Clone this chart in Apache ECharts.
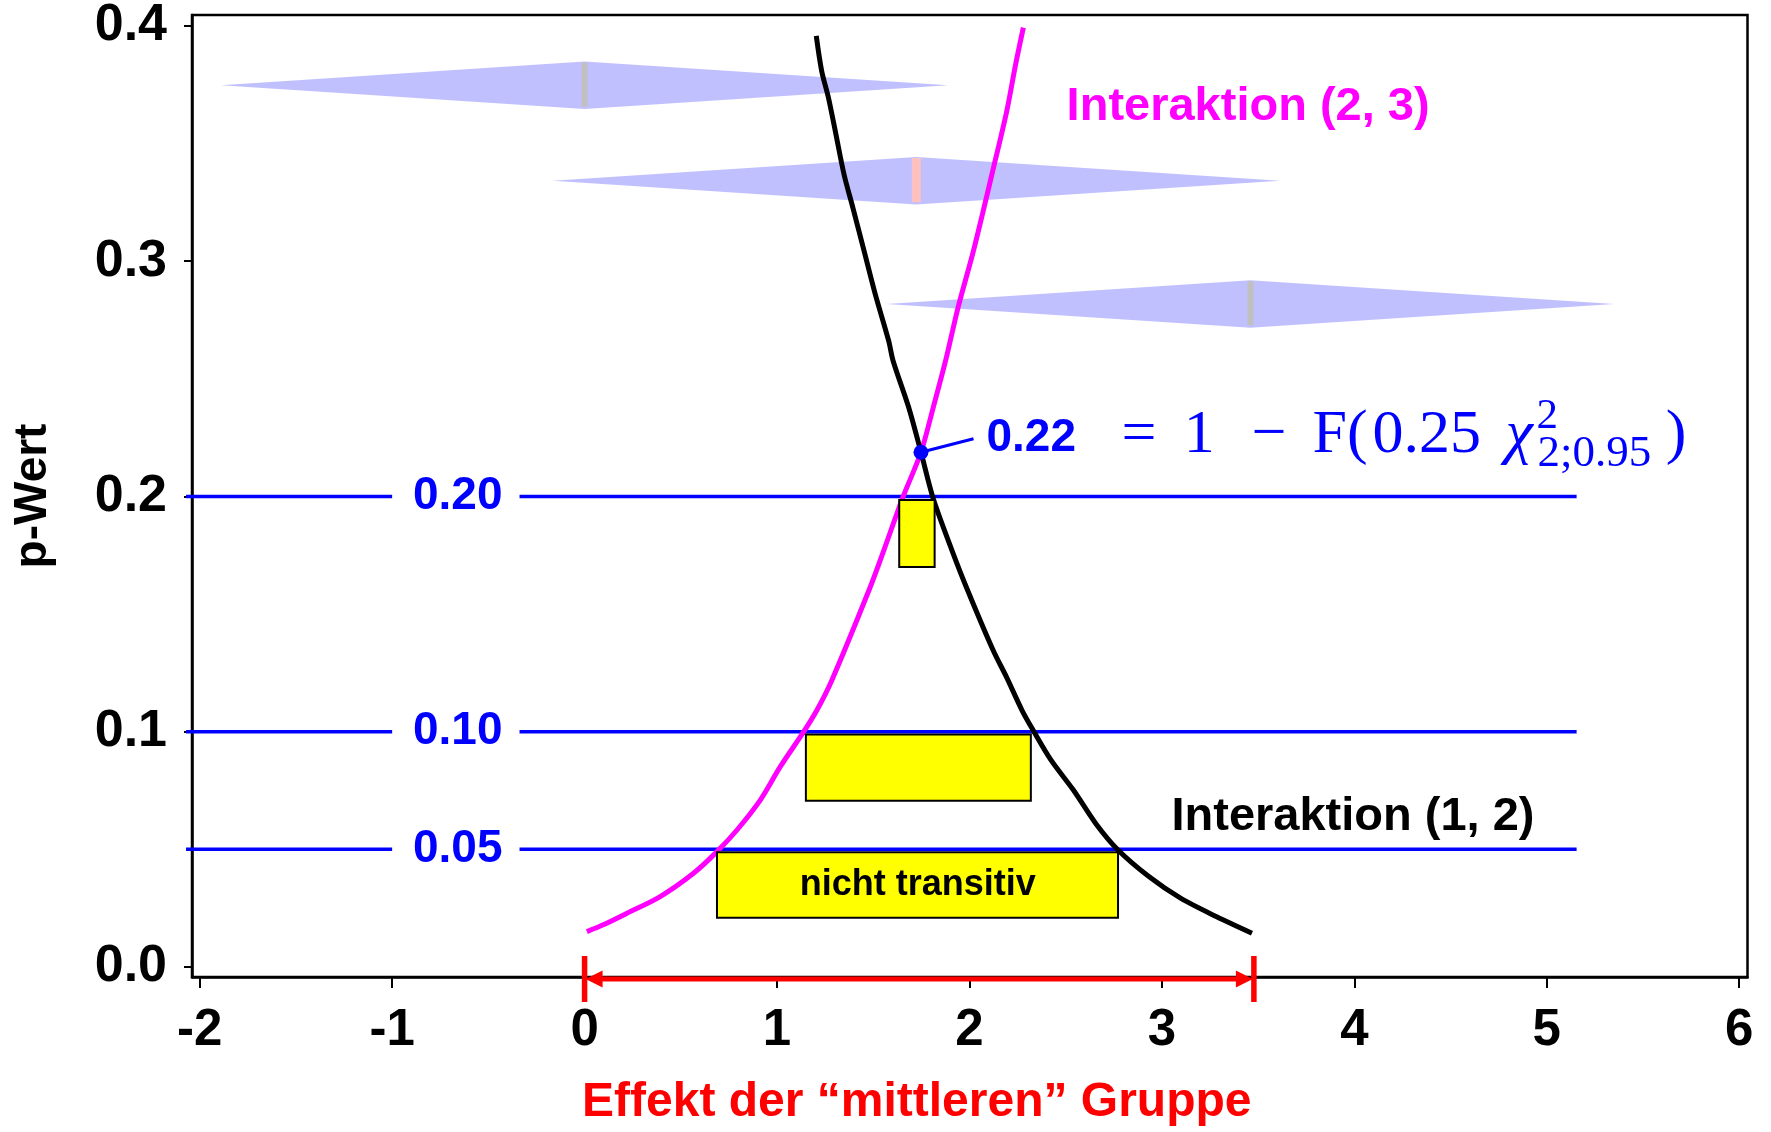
<!DOCTYPE html>
<html><head><meta charset="utf-8">
<script src="https://cdn.jsdelivr.net/npm/echarts@6/dist/echarts.min.js"></script>
<style>html,body{margin:0;padding:0;background:#fff}#c{width:1771px;height:1132px}</style>
</head><body><div id="c"></div>
<script>
// ---------------- data ----------------
const xTicks = [-2, -1, 0, 1, 2, 3, 4, 5, 6];
const yTicks = [0, 0.1, 0.2, 0.3, 0.4];

// "Interaktion (2, 3)" curve (magenta)
const magentaX = [0.012, 0.100, 0.220, 0.393, 0.566, 0.688, 0.792, 0.913, 1.017, 1.138, 1.207, 1.285, 1.483, 1.555, 1.651, 1.748, 1.812, 1.876, 1.941, 2.021, 2.125, 2.194, 2.240, 2.280];
const magentaY = [0.0150, 0.0180, 0.0228, 0.0299, 0.0398, 0.0490, 0.0582, 0.0709, 0.0851, 0.0999, 0.1091, 0.1219, 0.1612, 0.1771, 0.1990, 0.2188, 0.2379, 0.2577, 0.2804, 0.3045, 0.3398, 0.3639, 0.3837, 0.3993];

// "Interaktion (1, 2)" curve (black)
const blackX = [1.204, 1.232, 1.267, 1.306, 1.348, 1.394, 1.452, 1.510, 1.580, 1.603, 1.684, 1.748, 1.812, 1.909, 1.985, 2.123, 2.192, 2.273, 2.331, 2.424, 2.540, 2.656, 2.772, 2.934, 3.097, 3.282, 3.468];
const blackY = [0.3958, 0.3809, 0.3696, 0.3540, 0.3370, 0.3228, 0.3045, 0.2861, 0.2662, 0.2577, 0.2379, 0.2188, 0.1990, 0.1771, 0.1612, 0.1346, 0.1233, 0.1091, 0.1006, 0.0879, 0.0752, 0.0610, 0.0497, 0.0383, 0.0292, 0.0214, 0.0143];

// significance thresholds
const thresholds = [0.20, 0.10, 0.05];
const thresholdLabels = ['0.20', '0.10', '0.05'];

// yellow boxes (x from, x to, p from, p to)
const boxX0 = [1.635, 1.150, 0.688];
const boxX1 = [1.819, 2.319, 2.772];
const boxY0 = [0.1700, 0.0706, 0.0209];
const boxY1 = [0.1985, 0.0988, 0.0487];

// confidence diamonds
const diamondCenter = [0, 1.724, 3.46];
const diamondY = [0.3748, 0.3342, 0.2818];
const diamondHalfWidth = [1.89, 1.89, 1.89];
const diamondHalfHeight = [0.0101, 0.0101, 0.0101];

// crossing point
const crossX = 1.748, crossY = 0.2188;
// range arrow
const rangeFrom = 0, rangeTo = 3.478;

// text annotations
const annText = ['Interaktion (2, 3)', 'Interaktion (1, 2)', 'nicht transitiv', thresholdLabels[0], thresholdLabels[1], thresholdLabels[2], '0.22', '=', '1', '\u2212', 'F(', '0.25', '\u03c7', '2', '2;0.95', ')'];
const annX = [3.448, 3.993, 1.731, -0.659, -0.659, -0.659, 2.086, 2.788, 3.111, 3.463, 3.780, 4.092, 4.783, 4.944, 4.949, 5.615];
const annY = [0.3657, 0.0638, 0.0346, 0.20, 0.10, 0.05, 0.2246, 0.2259, 0.2259, 0.2259, 0.2259, 0.2259, 0.2259, 0.2338, 0.2180, 0.2259];
const annKind = ['mag', 'blk', 'box', 'thr', 'thr', 'thr', 'val', 'math', 'math', 'math', 'math', 'math', 'mathi', 'sup', 'sub', 'math'];

// ---------------- layout / style ----------------
const X_MIN = -2.04, X_MAX = 6.043, Y_MIN = -0.0043, Y_MAX = 0.4047;
const LINE_START = -2.071, LINE_END = 5.155, GAP_START = -1.0, GAP_END = -0.338;
const LEADER_END = [2.021, 0.2245];
const SANS = 'Liberation Sans, Arial, sans-serif';
const SERIF = 'Liberation Serif, Times New Roman, serif';
const barColors = ['#c0c0c0', '#ffc0c0', '#c0c0c0'];
const barWidths = [6, 9, 6];

const kindStyle = {
  mag:  {position: 'inside', fontFamily: SANS, fontWeight: 'bold', fontSize: 47, color: '#ff00ff'},
  blk:  {position: 'inside', fontFamily: SANS, fontWeight: 'bold', fontSize: 47, color: '#000000'},
  box:  {position: 'inside', fontFamily: SANS, fontWeight: 'bold', fontSize: 36, color: '#000000'},
  thr:  {position: 'inside', fontFamily: SANS, fontWeight: 'bold', fontSize: 46, color: '#0000ff'},
  val:  {position: 'right', distance: 0, fontFamily: SANS, fontWeight: 'bold', fontSize: 46, color: '#0000ff'},
  math: {position: 'right', distance: 0, fontFamily: SERIF, fontSize: 62, color: '#0000ff'},
  mathi:{position: 'right', distance: 0, fontFamily: SERIF, fontStyle: 'italic', fontSize: 62, color: '#0000ff'},
  sup:  {position: 'right', distance: 0, fontFamily: SERIF, fontSize: 43, color: '#0000ff'},
  sub:  {position: 'right', distance: 0, fontFamily: SERIF, fontSize: 45, color: '#0000ff'}
};

const annData = annText.map((t, i) => ({
  value: [annX[i], annY[i]],
  label: Object.assign({show: true, formatter: t, opacity: 1, textBorderWidth: 0}, kindStyle[annKind[i]])
}));

const chart = echarts.init(document.getElementById('c'), null, {renderer: 'canvas'});

chart.setOption({
  animation: false,
  backgroundColor: '#ffffff',
  grid: {left: 192, right: 23.5, top: 14, bottom: 155, show: true, borderColor: '#000', borderWidth: 2.5, backgroundColor: 'transparent'},
  xAxis: {
    type: 'value', min: X_MIN, max: X_MAX,
    axisLine: {show: true, onZero: false, lineStyle: {color: '#000', width: 2.5}},
    axisTick: {show: true, customValues: xTicks, length: 11, lineStyle: {color: '#000', width: 2}},
    axisLabel: {customValues: xTicks, formatter: v => String(v), fontSize: 51, fontWeight: 'bold', color: '#000', fontFamily: SANS, margin: 28},
    splitLine: {show: false},
    name: 'Effekt der \u201cmittleren\u201d Gruppe', nameLocation: 'middle', nameGap: 102,
    nameTextStyle: {fontFamily: SANS, fontWeight: 'bold', fontSize: 48, color: '#ff0000', padding: [0, 106, 0, 0]}
  },
  yAxis: {
    type: 'value', min: Y_MIN, max: Y_MAX,
    axisLine: {show: true, onZero: false, lineStyle: {color: '#000', width: 2.5}},
    axisTick: {show: true, customValues: yTicks, length: 8, lineStyle: {color: '#000', width: 2}},
    axisLabel: {customValues: yTicks, formatter: v => v.toFixed(1), fontSize: 52, fontWeight: 'bold', color: '#000', fontFamily: SANS, margin: 25},
    splitLine: {show: false},
    name: 'p-Wert', nameLocation: 'middle', nameGap: 136,
    nameTextStyle: {fontFamily: SANS, fontWeight: 'bold', fontSize: 46, color: '#000'}
  },
  series: [
    { // diamonds
      type: 'custom', z: 1,
      data: diamondCenter.map((c, i) => [c, diamondY[i], diamondHalfWidth[i], diamondHalfHeight[i]]),
      encode: {x: 0, y: 1},
      renderItem: (params, api) => {
        const c = api.value(0), y = api.value(1), hw = api.value(2), hh = api.value(3);
        const L = api.coord([c - hw, y]), T = api.coord([c, y + hh]), R = api.coord([c + hw, y]), B = api.coord([c, y - hh]);
        const bt = api.coord([c, y + hh * 0.96]), bb = api.coord([c, y - hh * 0.9]);
        const bw = barWidths[params.dataIndex];
        return {type: 'group', children: [
          {type: 'polygon', shape: {points: [L, T, R, B]}, style: {fill: '#c0c0ff'}},
          {type: 'rect', shape: {x: bt[0] - bw / 2, y: bt[1], width: bw, height: bb[1] - bt[1]}, style: {fill: barColors[params.dataIndex]}}
        ]};
      }
    },
    { // threshold lines
      type: 'custom', z: 2,
      data: thresholds.map(t => [LINE_START, t, LINE_END]),
      encode: {x: [0, 2], y: 1},
      renderItem: (params, api) => {
        const y = api.value(1);
        const a = api.coord([LINE_START, y]), g0 = api.coord([GAP_START, y]), g1 = api.coord([GAP_END, y]), b = api.coord([LINE_END, y]);
        const st = {stroke: '#0000ff', lineWidth: 3.5};
        return {type: 'group', children: [
          {type: 'line', shape: {x1: a[0], y1: a[1], x2: g0[0], y2: g0[1]}, style: st},
          {type: 'line', shape: {x1: g1[0], y1: g1[1], x2: b[0], y2: b[1]}, style: st}
        ]};
      }
    },
    {
      type: 'line', z: 3, smooth: 0.3, symbol: 'none',
      data: magentaX.map((x, i) => [x, magentaY[i]]),
      lineStyle: {color: '#ff00ff', width: 5}
    },
    {
      type: 'line', z: 3, smooth: 0.3, symbol: 'none',
      data: blackX.map((x, i) => [x, blackY[i]]),
      lineStyle: {color: '#000000', width: 5}
    },
    { // yellow boxes
      type: 'custom', z: 4,
      data: boxX0.map((x, i) => [x, boxY0[i], boxX1[i], boxY1[i]]),
      encode: {x: [0, 2], y: [1, 3]},
      renderItem: (params, api) => {
        const p0 = api.coord([api.value(0), api.value(3)]);
        const p1 = api.coord([api.value(2), api.value(1)]);
        return {type: 'rect', shape: {x: p0[0], y: p0[1], width: p1[0] - p0[0], height: p1[1] - p0[1]},
          style: {fill: '#ffff00', stroke: '#000', lineWidth: 2}};
      }
    },
    { // range arrow
      type: 'custom', z: 6,
      data: [[rangeFrom, rangeTo, Y_MIN]],
      encode: {x: [0, 1], y: 2},
      renderItem: (params, api) => {
        const a = api.coord([api.value(0), api.value(2)]);
        const b = api.coord([api.value(1), api.value(2)]);
        const y = a[1] + 2, ah = 17, aw = 8.5;
        const red = {fill: '#ff0000'};
        return {type: 'group', children: [
          {type: 'line', shape: {x1: a[0] + ah, y1: y, x2: b[0] - ah, y2: y}, style: {stroke: '#ff0000', lineWidth: 5}},
          {type: 'polygon', shape: {points: [[a[0] + 1, y], [a[0] + ah + 1, y - aw], [a[0] + ah + 1, y + aw]]}, style: red},
          {type: 'polygon', shape: {points: [[b[0] - 1, y], [b[0] - ah - 1, y - aw], [b[0] - ah - 1, y + aw]]}, style: red},
          {type: 'rect', shape: {x: a[0] - 2.75, y: y - 23, width: 5.5, height: 46}, style: red},
          {type: 'rect', shape: {x: b[0] - 2.75, y: y - 23, width: 5.5, height: 46}, style: red}
        ]};
      }
    },
    { // leader line
      type: 'line', z: 5, symbol: 'none',
      data: [[crossX, crossY], LEADER_END],
      lineStyle: {color: '#0000ff', width: 3}
    },
    { // crossing point
      type: 'scatter', z: 7, symbolSize: 15,
      data: [[crossX, crossY]],
      itemStyle: {color: '#0000ff', opacity: 1}
    },
    { // text annotations
      type: 'scatter', z: 8, symbolSize: 1, silent: true,
      itemStyle: {color: 'rgba(0,0,0,0)', opacity: 1},
      data: annData
    }
  ]
});
</script></body></html>
